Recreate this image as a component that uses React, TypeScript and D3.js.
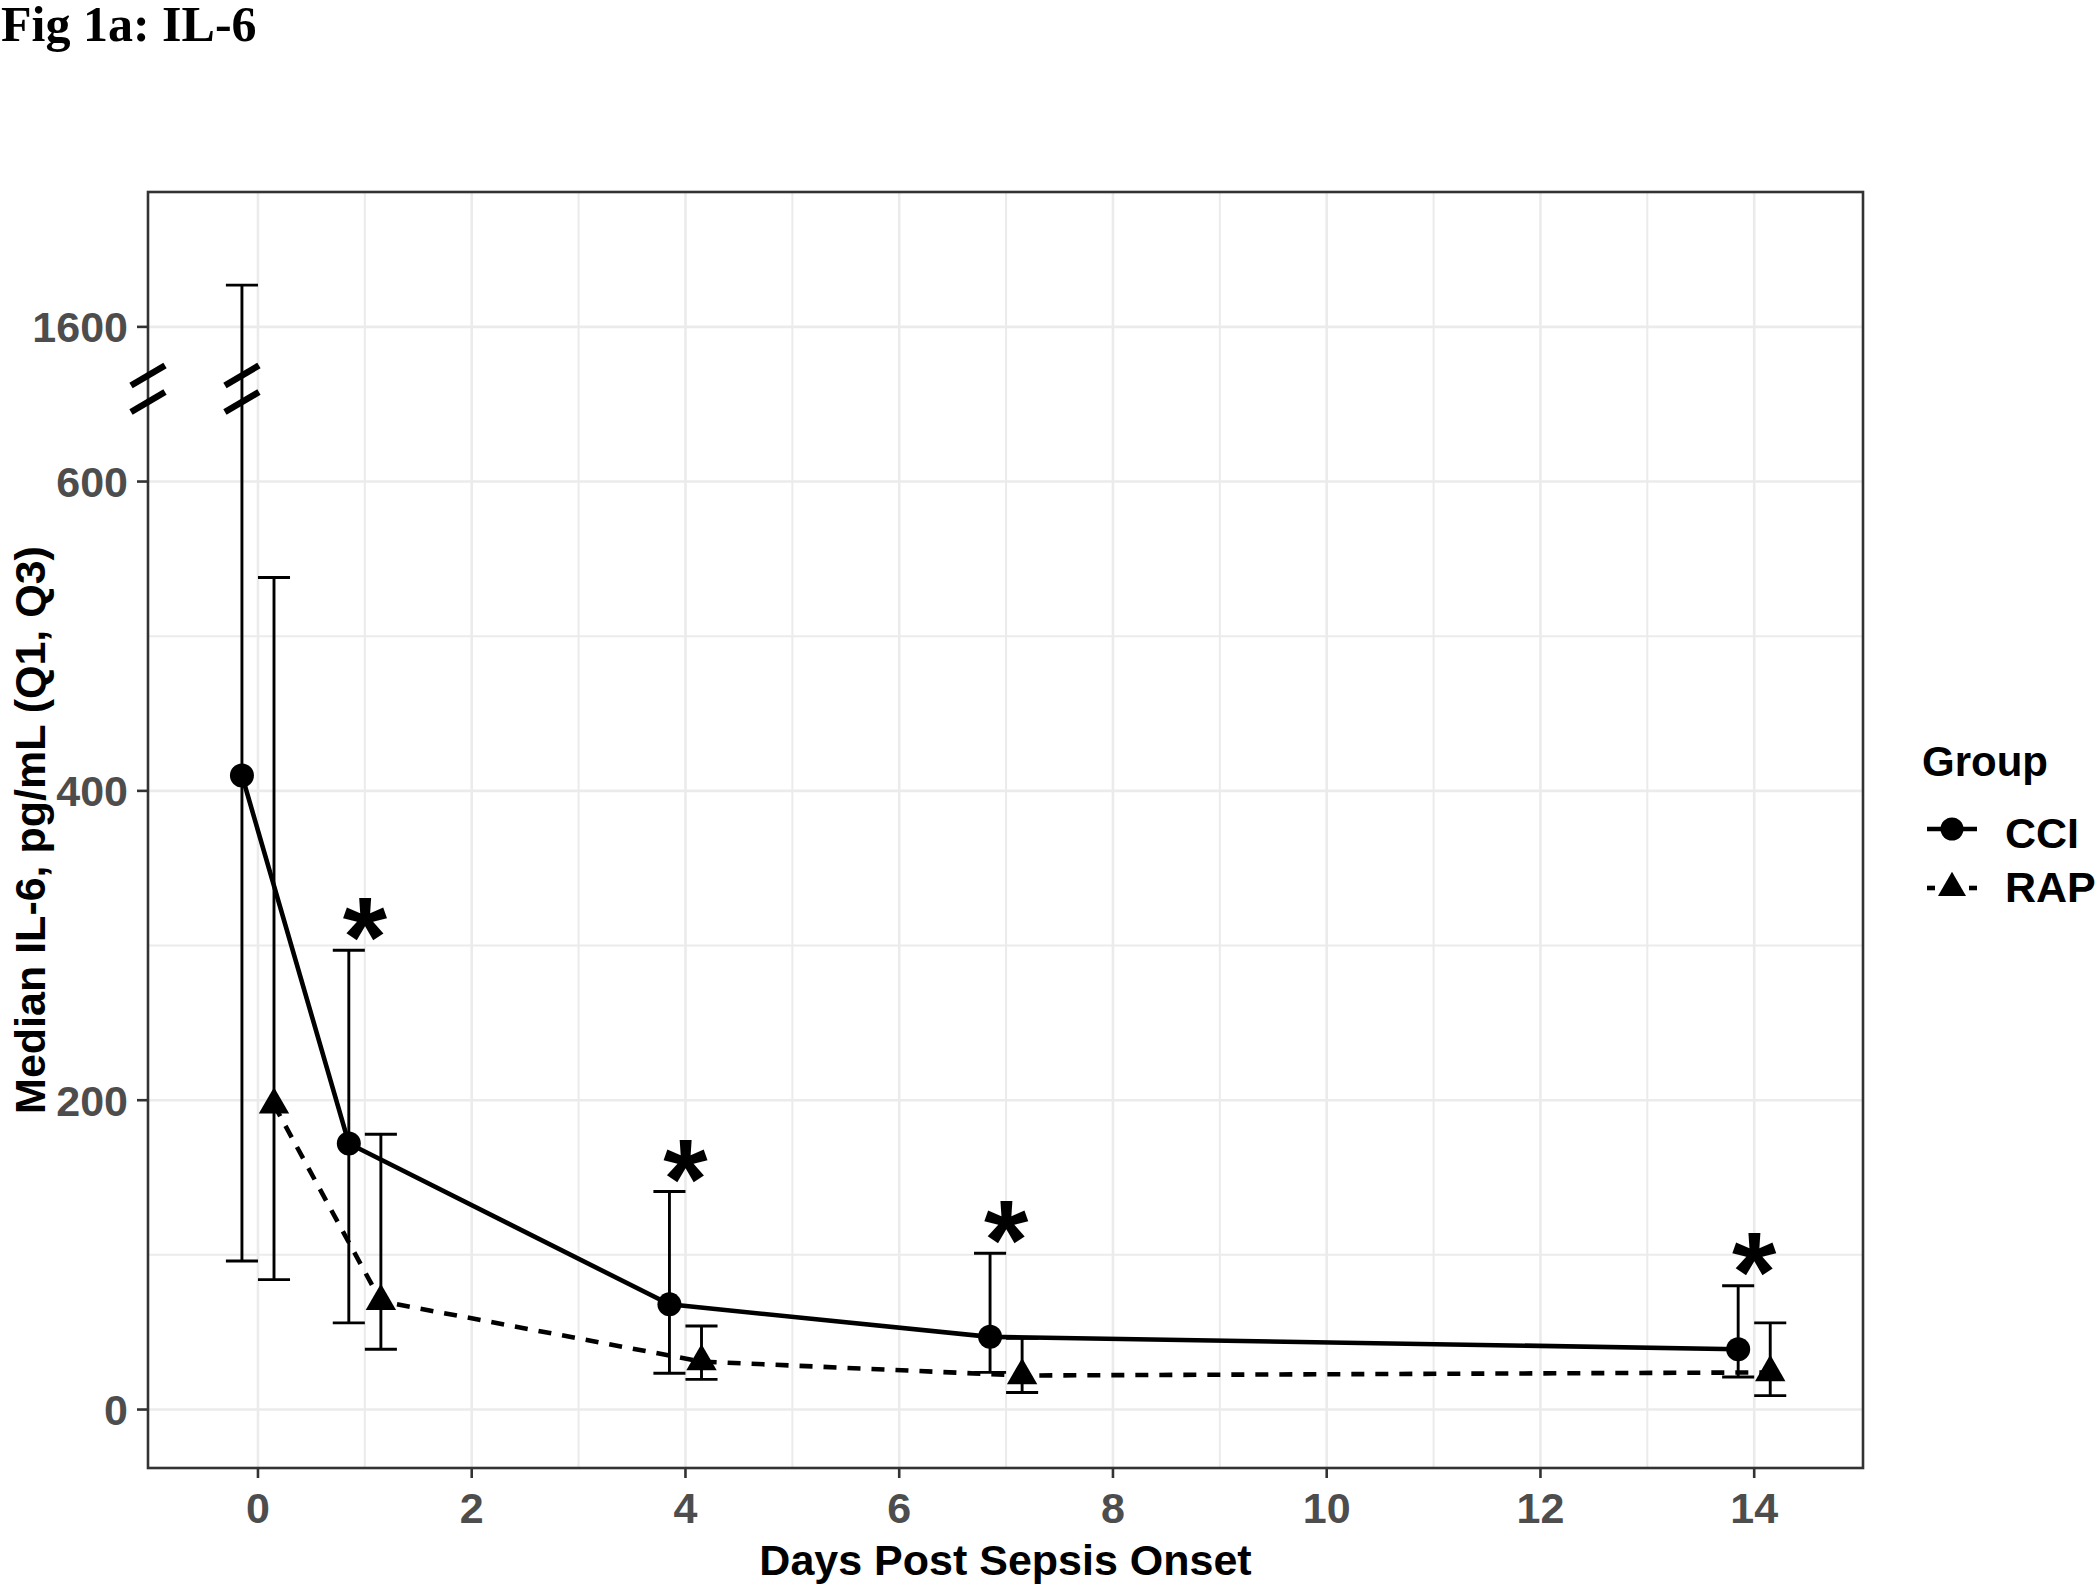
import React from "react";
import * as d3 from "d3";

// ---- data ----
const days = [0, 1, 4, 7, 14];
const cciMedian = [410, 172, 68, 47, 39];
const cciQ1 = [96, 56, 23.5, 24, 21];
const cciQ3 = [1627, 297, 141, 101, 80];
const rapMedian = [197, 70, 31, 22, 24];
const rapQ1 = [84, 39, 19.5, 11, 9];
const rapQ3 = [538, 178, 54, 46, 56];
const starDays = [1, 4, 7, 14];
const starY = [322, 165, 126, 105];
const yTicks = [0, 200, 400, 600, 1600];
const yMinor = [100, 300, 500];
const xTicks = [0, 2, 4, 6, 8, 10, 12, 14];
const xMinor = [1, 3, 5, 7, 9, 11, 13];
const groups = ["CCI", "RAP"];

const W = 2100;
const H = 1587;
const L = 148, R = 1863, T = 192, B = 1468;
const DODGE = 0.15;
const CAP = 0.15;
const BREAK_LO = 650;
const BREAK_GAP = 900;

const x = d3.scaleLinear().domain([-1.029, 15.018]).range([L, R]);
const yT = d3.scaleLinear().domain([-37.8, 787.2]).range([B, T]);
const brk = (v: number) => (v > BREAK_LO ? v - BREAK_GAP : v);
const y = (v: number) => yT(brk(v));

const sans = "'Liberation Sans', Arial, sans-serif";

export default function App() {
  const cci = days.map((d, i) => ({ x: d - DODGE, m: cciMedian[i], lo: cciQ1[i], hi: cciQ3[i] }));
  const rap = days.map((d, i) => ({ x: d + DODGE, m: rapMedian[i], lo: rapQ1[i], hi: rapQ3[i] }));
  const line = d3
    .line<{ x: number; m: number }>()
    .x((d) => x(d.x))
    .y((d) => y(d.m));
  const tri = d3.symbol(d3.symbolTriangle, 400)();
  const triKey = d3.symbol(d3.symbolTriangle, 340)();

  const errbars = (data: typeof cci, key: string) =>
    data.map((d, i) => (
      <g key={key + i} stroke="#000" strokeWidth={2.9} fill="none">
        <line x1={x(d.x)} x2={x(d.x)} y1={y(d.lo)} y2={y(d.hi)} />
        <line x1={x(d.x - CAP)} x2={x(d.x + CAP)} y1={y(d.lo)} y2={y(d.lo)} />
        <line x1={x(d.x - CAP)} x2={x(d.x + CAP)} y1={y(d.hi)} y2={y(d.hi)} />
      </g>
    ));

  const brkY = yT(660);
  const breakMark = (cx: number, k: string) => (
    <g key={k} stroke="#000" strokeWidth={6.5}>
      <line x1={cx - 17} y1={brkY - 3.3} x2={cx + 17} y2={brkY - 23.3} />
      <line x1={cx - 17} y1={brkY + 23.3} x2={cx + 17} y2={brkY + 3.3} />
    </g>
  );

  return (
    <svg
      width={W}
      height={H}
      style={{ position: "absolute", left: 0, top: 0, background: "#fff" }}
      xmlns="http://www.w3.org/2000/svg"
    >
      <rect x={0} y={0} width={W} height={H} fill="#fff" />
      <text x={1} y={41} fontFamily="'Liberation Serif', 'Times New Roman', serif" fontWeight="bold" fontSize={50}>
        Fig 1a: IL-6
      </text>

      {/* gridlines */}
      <g stroke="#EBEBEB">
        {yMinor.map((v) => (
          <line key={"ym" + v} x1={L} x2={R} y1={y(v)} y2={y(v)} strokeWidth={2} />
        ))}
        {xMinor.map((v) => (
          <line key={"xm" + v} x1={x(v)} x2={x(v)} y1={T} y2={B} strokeWidth={2} />
        ))}
        {yTicks.map((v) => (
          <line key={"yg" + v} x1={L} x2={R} y1={y(v)} y2={y(v)} strokeWidth={2.6} />
        ))}
        {xTicks.map((v) => (
          <line key={"xg" + v} x1={x(v)} x2={x(v)} y1={T} y2={B} strokeWidth={2.6} />
        ))}
      </g>

      {/* lines */}
      <path d={line(cci) || ""} fill="none" stroke="#000" strokeWidth={4.6} />
      <path d={line(rap) || ""} fill="none" stroke="#000" strokeWidth={4.6} strokeDasharray="13 11" />

      {errbars(cci, "c")}
      {errbars(rap, "r")}

      {cci.map((d, i) => (
        <circle key={"cp" + i} cx={x(d.x)} cy={y(d.m)} r={12} fill="#000" />
      ))}
      {rap.map((d, i) => (
        <path key={"rp" + i} d={tri || ""} transform={`translate(${x(d.x)},${y(d.m)})`} fill="#000" />
      ))}

      {starDays.map((d, i) => (
        <text
          key={"s" + i}
          x={x(d)}
          y={y(starY[i]) + 64}
          textAnchor="middle"
          fontFamily={sans}
          fontWeight="bold"
          fontSize={114}
        >
          *
        </text>
      ))}

      {/* panel border */}
      <rect x={L} y={T} width={R - L} height={B - T} fill="none" stroke="#333" strokeWidth={2.6} />

      {/* break marks */}
      {breakMark(L, "b1")}
      {breakMark(x(days[0] - DODGE), "b2")}

      {/* y axis */}
      {yTicks.map((v) => (
        <g key={"yt" + v}>
          <line x1={L - 11} x2={L} y1={y(v)} y2={y(v)} stroke="#333" strokeWidth={2.6} />
          <text
            x={128}
            y={y(v) + 15.5}
            textAnchor="end"
            fontFamily={sans}
            fontWeight="bold"
            fontSize={43}
            fill="#4D4D4D"
          >
            {v}
          </text>
        </g>
      ))}
      {/* x axis */}
      {xTicks.map((v) => (
        <g key={"xt" + v}>
          <line x1={x(v)} x2={x(v)} y1={B} y2={B + 10} stroke="#333" strokeWidth={2.6} />
          <text
            x={x(v)}
            y={1523}
            textAnchor="middle"
            fontFamily={sans}
            fontWeight="bold"
            fontSize={43}
            fill="#4D4D4D"
          >
            {v}
          </text>
        </g>
      ))}

      <text x={(L + R) / 2} y={1575} textAnchor="middle" fontFamily={sans} fontWeight="bold" fontSize={43}>
        Days Post Sepsis Onset
      </text>
      <text
        transform={`translate(45,${(T + B) / 2}) rotate(-90)`}
        textAnchor="middle"
        fontFamily={sans}
        fontWeight="bold"
        fontSize={43}
      >
        Median IL-6, pg/mL (Q1, Q3)
      </text>

      {/* legend */}
      <text x={1922} y={776} fontFamily={sans} fontWeight="bold" fontSize={42}>
        Group
      </text>
      <g>
        <line x1={1927} x2={1977} y1={829} y2={829} stroke="#000" strokeWidth={4.6} />
        <circle cx={1952} cy={829} r={11.5} fill="#000" />
        <text x={2005} y={848} fontFamily={sans} fontWeight="bold" fontSize={43}>
          {groups[0]}
        </text>
      </g>
      <g>
        <line x1={1927} x2={1935} y1={888} y2={888} stroke="#000" strokeWidth={4.6} />
        <line x1={1969} x2={1977} y1={888} y2={888} stroke="#000" strokeWidth={4.6} />
        <path d={triKey || ""} transform={`translate(1952,888)`} fill="#000" />
        <text x={2005} y={902} fontFamily={sans} fontWeight="bold" fontSize={43}>
          {groups[1]}
        </text>
      </g>
    </svg>
  );
}
